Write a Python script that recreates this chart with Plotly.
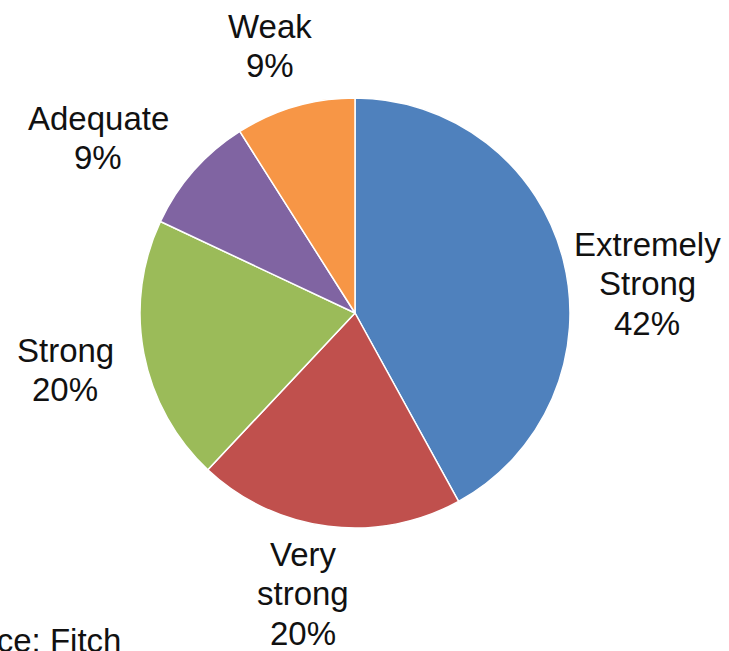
import plotly.graph_objects as go

# Share of ratings by category
categories = ["Extremely Strong", "Very strong", "Strong", "Adequate", "Weak"]
shares = [42, 20, 20, 9, 9]
label_lines = [["Extremely", "Strong"], ["Very", "strong"], ["Strong"], ["Adequate"], ["Weak"]]
colors = ["#4F81BD", "#C0504D", "#9BBB59", "#8064A2", "#F79646"]

W, H = 729, 651
cx, cy, r = 355, 313, 215  # pie centre and radius in pixels

fig = go.Figure(go.Pie(
    labels=categories,
    values=shares,
    sort=False,
    direction="clockwise",
    rotation=0,
    marker=dict(colors=colors, line=dict(color="white", width=1.5)),
    textinfo="none",
    hoverinfo="label+percent",
    domain=dict(x=[(cx - r) / W, (cx + r) / W],
                y=[(H - cy - r) / H, (H - cy + r) / H]),
    showlegend=False,
))

# Outside label positions: centre x and first-line centre y (pixels)
label_pos = {
    "Extremely Strong": (647, 244),
    "Very strong": (303, 554),
    "Strong": (65, 350),
    "Adequate": (98, 118),
    "Weak": (270, 26),
}
line_gap = 39.5

font = dict(family="Liberation Sans, Arial, sans-serif", size=33, color="#111111")


def put_text(px, py, text, xanchor="center"):
    fig.add_annotation(
        x=px / W, y=1 - py / H, xref="paper", yref="paper",
        text=text, showarrow=False,
        xanchor=xanchor, yanchor="middle", font=font,
    )


for name, lines, val in zip(categories, label_lines, shares):
    px, py = label_pos[name]
    for i, line in enumerate(lines + [f"{val}%"]):
        put_text(px, py + i * line_gap, line)

put_text(123, 640, "Source: Fitch", xanchor="right")

fig.update_layout(
    width=W, height=H,
    margin=dict(l=0, r=0, t=0, b=0),
    paper_bgcolor="white", plot_bgcolor="white",
)

fig.write_html("out.html")
